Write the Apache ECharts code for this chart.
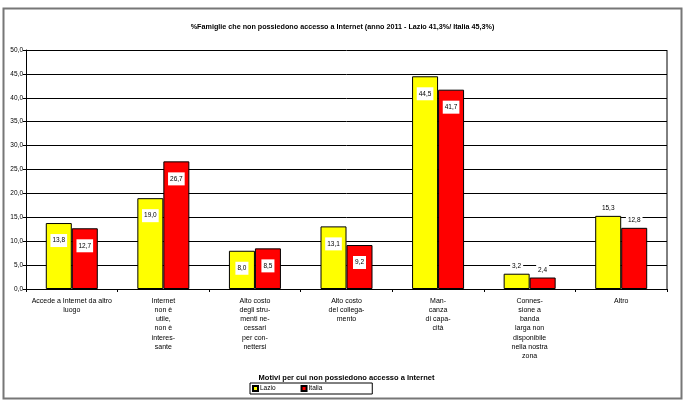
<!DOCTYPE html>
<html><head><meta charset="utf-8">
<script src="https://cdn.jsdelivr.net/npm/echarts@6/dist/echarts.min.js"></script>
<style>html,body{margin:0;padding:0;background:#fff}#c{width:685px;height:403px}</style>
</head><body><div id="c"></div>
<script>
const categories = [
  "Accede a Internet da altro\nluogo",
  "Internet\nnon è\nutile,\nnon è\ninteres-\nsante",
  "Alto costo\ndegli stru-\nmenti ne-\ncessari\nper con-\nnettersi",
  "Alto costo\ndel collega-\nmento",
  "Man-\ncanza\ndi capa-\ncità",
  "Connes-\nsione a\nbanda\nlarga non\ndisponibile\nnella nostra\nzona",
  "Altro"
];
const lazio = [13.8, 19.0, 8.0, 13.1, 44.5, 3.2, 15.3];
const italia = [12.7, 26.7, 8.5, 9.2, 41.7, 2.4, 12.8];
const yTicks = [0, 5, 10, 15, 20, 25, 30, 35, 40, 45, 50];
const outsideLabelCats = [5, 6];

const FONT = 'Liberation Sans, Arial, sans-serif';
const fmt = v => v.toFixed(1).replace('.', ',');

function buildData(vals) {
  return vals.map((v, i) => {
    const outside = outsideLabelCats.includes(i);
    return {
      value: v,
      label: outside ? { position: 'top', distance: 1 } : { position: 'insideTop', distance: 11 }
    };
  });
}

const labelBase = {
  show: true, color: '#000', fontSize: 6.5, fontFamily: FONT,
  backgroundColor: '#fff', padding: [3, 2, 3, 2],
  formatter: p => fmt(p.value)
};

const chart = echarts.init(document.getElementById('c'));
chart.setOption({
  animation: false,
  backgroundColor: '#fff',
  title: {
    text: '%Famiglie che non possiedono accesso a Internet (anno 2011 - Lazio 41,3%/ Italia 45,3%)',
    left: 'center', top: 19,
    textStyle: { fontSize: 7.2, fontWeight: 'bold', fontFamily: FONT, color: '#000' }
  },
  graphic: [{
    type: 'rect', shape: { x: 3.5, y: 8.5, width: 678, height: 390 },
    style: { fill: 'none', stroke: '#777', lineWidth: 2 }, silent: true, z: -1
  }, {
    type: 'line', shape: { x1: 667, y1: 50, x2: 667, y2: 289 },
    style: { stroke: '#000', lineWidth: 1 }, silent: true
  }],
  legend: {
    left: 250, top: 383,
    padding: [2, 50, 2, 2],
    borderColor: '#000', borderWidth: 1,
    icon: 'rect',
    itemWidth: 5, itemHeight: 5, itemGap: 25,
    textStyle: { fontSize: 6.5, fontFamily: FONT, color: '#000', padding: [0, 0, 0, -3] },
    data: ['Lazio', 'Italia']
  },
  grid: { left: 26, right: 18, top: 50, bottom: 114 },
  xAxis: {
    type: 'category',
    data: categories,
    name: 'Motivi per cui non possiedono accesso a Internet',
    nameLocation: 'middle', nameGap: 85,
    nameTextStyle: { fontSize: 7.5, fontWeight: 'bold', fontFamily: FONT, color: '#000' },
    axisLine: { lineStyle: { color: '#000', width: 1 } },
    axisTick: { show: true, alignWithLabel: false, length: 3, lineStyle: { color: '#000' } },
    axisLabel: { fontSize: 7, fontFamily: FONT, color: '#000', lineHeight: 9.3, margin: 7, interval: 0 }
  },
  yAxis: {
    type: 'value', min: 0, max: 50, interval: 5,
    axisLine: { show: true, lineStyle: { color: '#000' } },
    axisTick: { show: true, length: 3, lineStyle: { color: '#000' } },
    axisLabel: { fontSize: 6.5, fontFamily: FONT, color: '#000', margin: 3,
      formatter: v => yTicks.includes(v) ? fmt(v) : '' },
    splitLine: { show: true, lineStyle: { color: '#000', width: 1 } }
  },
  series: [
    {
      name: 'Lazio', type: 'bar', data: buildData(lazio),
      barWidth: 26, barGap: '0%',
      itemStyle: { color: '#FFFF00', borderColor: '#000', borderWidth: 1 },
      label: labelBase
    },
    {
      name: 'Italia', type: 'bar', data: buildData(italia),
      barWidth: 26, barGap: '0%',
      itemStyle: { color: '#FF0000', borderColor: '#000', borderWidth: 1 },
      label: labelBase
    }
  ]
});
</script>
</body></html>
